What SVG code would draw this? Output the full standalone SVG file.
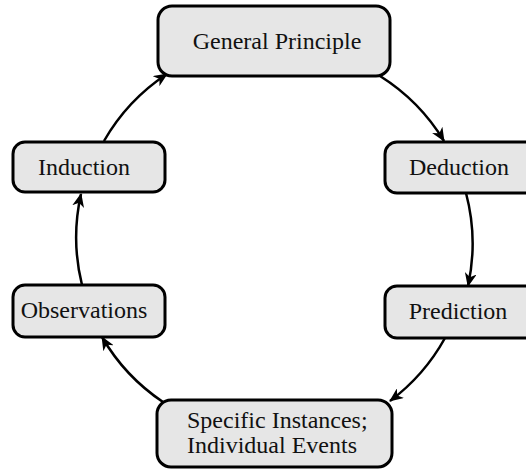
<svg xmlns="http://www.w3.org/2000/svg" width="526" height="470" viewBox="0 0 526 470">
<defs>
<style>
.box{fill:#e6e6e6;stroke:#000;stroke-width:3}
.lbl{font-family:"Liberation Serif","Times New Roman",serif;font-size:24px;fill:#111}
.c{text-anchor:middle}
.edge{fill:none;stroke:#000;stroke-width:2.5}
</style>
<marker id="ah" markerUnits="userSpaceOnUse" markerWidth="14" markerHeight="12" viewBox="0 0 14 12" refX="13" refY="6" orient="auto">
<path d="M0,0 L14,6 L0,12 L4,6 Z" fill="#000"/>
</marker>
</defs>
<rect width="526" height="470" fill="#fff"/>
<g id="connectors">
<path class="edge" marker-end="url(#ah)" d="M380,76 A198,198 0 0 1 444,141"/>
<path class="edge" marker-end="url(#ah)" d="M466,193 A198,198 0 0 1 468,286"/>
<path class="edge" marker-end="url(#ah)" d="M445,338 A198,198 0 0 1 390,401"/>
<path class="edge" marker-end="url(#ah)" d="M163,402 A198,198 0 0 1 102,337"/>
<path class="edge" marker-end="url(#ah)" d="M82,285 A198,198 0 0 1 81,194"/>
<path class="edge" marker-end="url(#ah)" d="M104,141 A198,198 0 0 1 167,74"/>
</g>
<g id="general-principle">
<rect class="box" x="158" y="6" width="232" height="70" rx="14"/>
<text class="lbl c" x="277" y="49">General Principle</text>
</g>
<g id="deduction">
<rect class="box" x="385" y="142" width="152" height="51" rx="12"/>
<text class="lbl c" x="459" y="175">Deduction</text>
</g>
<g id="prediction">
<rect class="box" x="385" y="286" width="152" height="52" rx="12"/>
<text class="lbl c" x="458" y="319">Prediction</text>
</g>
<g id="specific-instances">
<rect class="box" x="157" y="400" width="235" height="67" rx="14"/>
<text class="lbl" x="187" y="428">Specific Instances;</text>
<text class="lbl" x="187" y="453">Individual Events</text>
</g>
<g id="observations">
<rect class="box" x="13" y="285" width="152" height="52" rx="12"/>
<text class="lbl c" x="84" y="318">Observations</text>
</g>
<g id="induction">
<rect class="box" x="13" y="142" width="152" height="50" rx="12"/>
<text class="lbl c" x="84" y="175">Induction</text>
</g>
</svg>
